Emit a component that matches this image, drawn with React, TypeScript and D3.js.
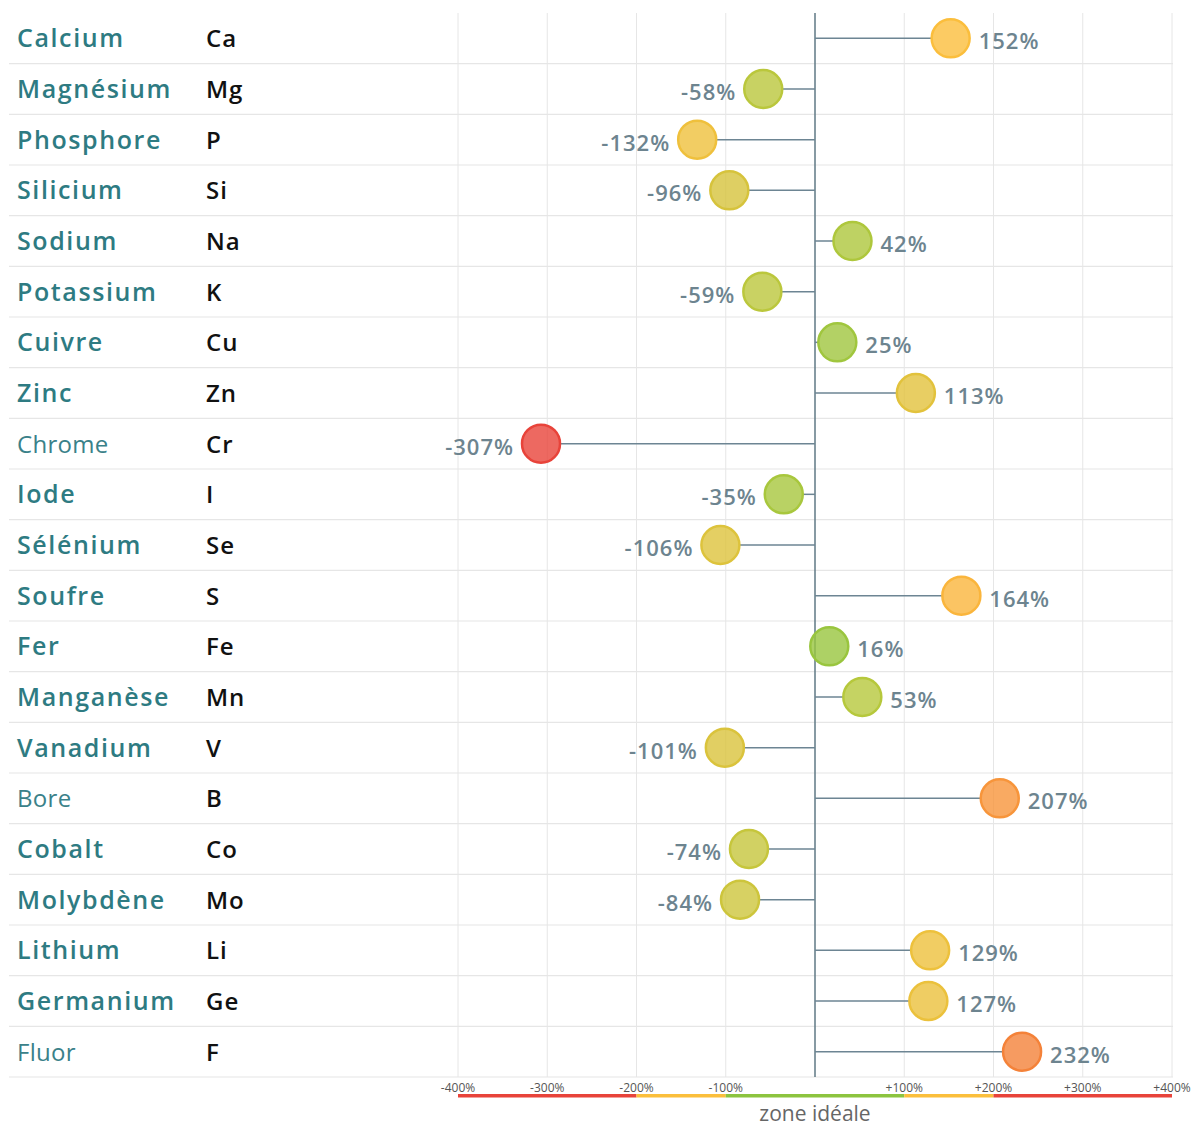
import React from 'react';
import * as d3 from 'd3';

// mineral names, symbols, deviation from ideal (%)
const names = [
  'Calcium', 'Magnésium', 'Phosphore', 'Silicium', 'Sodium', 'Potassium', 'Cuivre',
  'Zinc', 'Chrome', 'Iode', 'Sélénium', 'Soufre', 'Fer', 'Manganèse', 'Vanadium',
  'Bore', 'Cobalt', 'Molybdène', 'Lithium', 'Germanium', 'Fluor'
];
const symbols = [
  'Ca', 'Mg', 'P', 'Si', 'Na', 'K', 'Cu', 'Zn', 'Cr', 'I', 'Se', 'S', 'Fe', 'Mn', 'V',
  'B', 'Co', 'Mo', 'Li', 'Ge', 'F'
];
const values = [
  152, -58, -132, -96, 42, -59, 25, 113, -307, -35, -106, 164, 16, 53, -101,
  207, -74, -84, 129, 127, 232
];
// names rendered in the lighter fallback font
const lightNames = ['Chrome', 'Bore', 'Fluor'];

const ticks = [-400, -300, -200, -100, 100, 200, 300, 400];
const zones = [
  { from: -400, to: -200, color: '#e8433a' },
  { from: -200, to: -100, color: '#fbbf3c' },
  { from: -100, to: 100, color: '#8cc43f' },
  { from: 100, to: 200, color: '#fbbf3c' },
  { from: 200, to: 400, color: '#e8433a' }
];

const W = 1192;
const H = 1126;
const R = 19;

const App: React.FC = () => {
  const x = d3.scaleLinear().domain([-400, 400]).range([458, 1172]);
  const y = d3.scaleBand().domain(names).range([13, 1077]);
  const bw = y.bandwidth();

  const color = d3.scaleLinear<string>()
    .domain([0, 50, 100, 150, 200, 250, 300])
    .range(['#8cc43f', '#b4c83c', '#d9c33c', '#fbbf3c', '#f89a3c', '#f27438', '#e8433a'])
    .clamp(true);

  const font = '"Open Sans", "Noto Sans", sans-serif';

  return (
    <svg width={W} height={H} style={{ position: 'absolute', left: 0, top: 0, background: '#fff' }}>
      {/* vertical grid */}
      {ticks.map(t => (
        <line key={'g' + t} x1={x(t)} x2={x(t)} y1={13} y2={1077} stroke="#e6e6e6" strokeWidth={1} />
      ))}
      {/* row separators */}
      {names.map(n => (
        <line key={'s' + n} x1={9} x2={1173} y1={(y(n) ?? 0) + bw} y2={(y(n) ?? 0) + bw}
          stroke="#e6e6e6" strokeWidth={1.2} />
      ))}
      {/* centre line */}
      <line x1={x(0)} x2={x(0)} y1={13} y2={1077} stroke="#5f7985" strokeWidth={1.5} />

      {names.map((n, i) => {
        const cy = (y(n) ?? 0) + bw / 2;
        const v = values[i];
        const cx = x(v);
        const c = color(Math.abs(v));
        const light = lightNames.includes(n);
        const edge = v >= 0 ? Math.max(x(0), cx - R) : Math.min(x(0), cx + R);
        return (
          <g key={n}>
            <text x={17} y={cy + 9} fill={light ? '#3a8189' : '#2e7b82'}
              style={{ fontFamily: font, fontSize: light ? 24 : 25, fontWeight: light ? 400 : 600, letterSpacing: light ? 0.3 : 1.6 }}>
              {n}
            </text>
            <text x={206} y={cy + 9} fill="#111"
              style={{ fontFamily: font, fontSize: 24, fontWeight: 600, letterSpacing: 1 }}>
              {symbols[i]}
            </text>
            <line x1={x(0)} x2={edge} y1={cy} y2={cy} stroke="#6d8593" strokeWidth={1.5} />
            <circle cx={cx} cy={cy} r={R} fill={c} fillOpacity={0.8} stroke={c} strokeWidth={2.5} />
            <text x={v >= 0 ? cx + 28 : cx - 27} y={cy + 11} textAnchor={v >= 0 ? 'start' : 'end'}
              fill="#6d848f" style={{ fontFamily: font, fontSize: 22, fontWeight: 600, letterSpacing: 1 }}>
              {`${v}%`}
            </text>
          </g>
        );
      })}

      {/* axis ticks */}
      {ticks.map(t => (
        <text key={'t' + t} x={x(t)} y={1092} textAnchor="middle" fill="#555"
          style={{ fontFamily: font, fontSize: 12 }}>
          {t > 0 ? `+${t}%` : `${t}%`}
        </text>
      ))}
      {/* zone bar */}
      {zones.map(z => (
        <rect key={'z' + z.from} x={x(z.from)} width={x(z.to) - x(z.from)} y={1094} height={3.5} fill={z.color} />
      ))}
      <text x={x(0)} y={1121} textAnchor="middle" fill="#666"
        style={{ fontFamily: font, fontSize: 21 }}>
        zone idéale
      </text>
    </svg>
  );
};

export default App;
